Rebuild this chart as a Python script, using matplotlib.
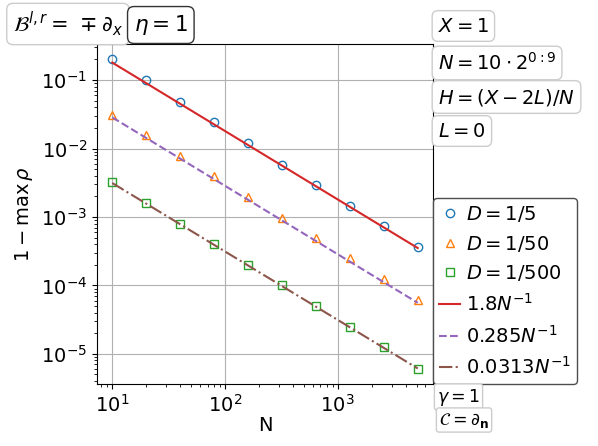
import numpy as np
import matplotlib
matplotlib.use('Agg')
import matplotlib.pyplot as plt

# grid sizes N = 10 * 2^(0:9)
N = [10, 20, 40, 80, 160, 320, 640, 1280, 2560, 5120]

# 1 - max rho
rho_d5 = [0.2, 0.1, 0.048, 0.024, 0.012, 0.0058, 0.0029, 0.00145, 0.00073, 0.00037]
rho_d50 = [0.031, 0.0157, 0.0078, 0.0039, 0.00196, 0.00098, 0.00049, 0.000248, 0.000124, 6.2e-5]
rho_d500 = [0.0032, 0.0016, 0.0008, 0.0004, 0.0002, 0.0001, 5.0e-5, 2.5e-5, 1.25e-5, 6.1e-6]

# fitted coefficients c * N^-1
fit_coef = [1.8, 0.285, 0.0313]
fit_labels = [r'$1.8N^{-1}$', r'$0.285N^{-1}$', r'$0.0313N^{-1}$']

W, H = 598, 446
fig = plt.figure(figsize=(W / 100, H / 100), dpi=100)
ax = fig.add_axes([97 / W, 1 - 384 / H, (433 - 97) / W, (384 - 44) / H])

ax.plot(N, rho_d5, 'o', mfc='none', color='C0', label=r'$D=1/5$')
ax.plot(N, rho_d50, '^', mfc='none', color='C1', label=r'$D=1/50$')
ax.plot(N, rho_d500, 's', mfc='none', color='C2', label=r'$D=1/500$')

Narr = np.array(N, dtype=float)
styles = [('C3', '-'), ('C4', '--'), ('C5', '-.')]
for c, lab, (col, ls) in zip(fit_coef, fit_labels, styles):
    ax.plot(Narr, c / Narr, ls, color=col, label=lab)

ax.set_xscale('log')
ax.set_yscale('log')
ax.grid(True)
ax.tick_params(labelsize=14)
ax.set_xlabel('N', fontsize=14, labelpad=0)
ax.set_ylabel(r'$1-\max\,\rho$', fontsize=14)

leg = ax.legend(loc='lower left', bbox_to_anchor=(1.0, 0.0), fontsize=14,
                borderaxespad=0, handlelength=1.1, handletextpad=0.3,
                framealpha=1, edgecolor='0.3', borderpad=0.3, labelspacing=0.5)


def box(x, y, s, fs=14, ec='0.8', pad=0.3):
    fig.text(x / W, 1 - y / H, s, fontsize=fs, ha='left', va='center',
             bbox=dict(boxstyle='round,pad=%g' % pad, fc='white', ec=ec))


box(13, 24, r'$\mathcal{B}^{l,r} =\,\mp\partial_x$', fs=15)
box(134, 25, r'$\eta=1$', fs=15.5, ec='0.2')
box(438, 26, r'$X=1$')
box(438, 63, r'$N=10\cdot2^{0:9}$')
box(438, 97, r'$H=(X-2L)/N$')
box(438, 131, r'$L=0$')
box(437, 397, r'$\gamma=1$', fs=12.5, pad=0.15)
box(439, 420, r'$\mathcal{C}=\partial_\mathbf{n}$', fs=12.5, pad=0.15)

fig.savefig('out.png', dpi=100)
